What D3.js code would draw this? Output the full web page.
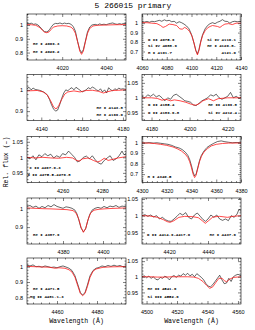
<!DOCTYPE html>
<html>
<head>
<meta charset="utf-8">
<script src="https://cdn.jsdelivr.net/npm/d3@7"></script>
<style>
  body { margin: 0; background: #fff; }
  .axis path { display: none; }
  .axis line { stroke: #000; stroke-width: 0.5; }
</style>
</head>
<body>
<svg id="chart" width="255" height="330"></svg>
<script>
// ---- observed (black) and model (red) spectra, read off the figure ----
// row 1 left: He I 4009 / 4026
const obsWave1a = [4004,4005,4006,4007,4008,4009,4010,4011,4012,4013,4014,4015,4016,4017,4018,4019,4020,4021,4022,4023,4024,4025,4026,4027,4028,4028.8,4029.6,4030.5,4031.5,4032.5,4033.5,4035,4036,4037,4038,4039,4040,4041,4042,4043,4044,4045,4046,4047,4048,4049];
const obsFlux1a = [1.012,1.010,1.013,1.005,1.008,1.000,0.985,0.965,0.952,0.950,0.960,0.985,1.005,1.012,1.010,1.015,1.008,1.014,1.010,1.012,1.005,0.990,0.955,0.880,0.820,0.800,0.820,0.880,0.950,0.985,1.000,1.005,1.000,1.008,1.003,1.006,1.002,1.008,1.012,1.015,1.008,1.005,1.010,1.006,1.012,1.010];
const modWave1a = [4004,4006,4008,4010,4011,4012,4013,4014,4015,4016,4018,4020,4022,4024,4025,4026,4027,4028,4028.8,4029.6,4030.5,4031.5,4032.5,4034,4036,4040,4044,4049];
const modFlux1a = [1.003,1.002,0.998,0.980,0.962,0.948,0.944,0.950,0.968,0.985,0.993,0.995,0.993,0.985,0.970,0.940,0.880,0.810,0.787,0.810,0.875,0.940,0.975,0.993,0.998,1.000,1.002,1.003];

// row 1 right: H delta region
const obsWave1b = [4060,4062,4064,4066,4068,4070,4072,4074,4076,4078,4080,4082,4084,4086,4088,4090,4092,4094,4096,4098,4100,4102,4103.5,4104.8,4106,4107.5,4109,4111,4113,4115,4117,4119,4121,4123,4125,4127,4129,4131,4133,4135,4137,4140];
const obsFlux1b = [1.015,1.012,1.018,1.010,1.020,1.015,1.022,1.030,1.020,1.035,1.025,1.030,1.015,1.020,1.000,1.015,1.005,0.990,0.970,0.940,0.880,0.790,0.710,0.675,0.720,0.810,0.880,0.940,0.975,0.995,1.005,0.995,1.010,1.020,1.037,1.020,1.018,1.000,1.015,1.020,1.015,1.020];
const modWave1b = [4060,4064,4068,4072,4075,4077,4079,4082,4085,4088,4090.5,4092.5,4094.5,4096.5,4098.5,4100.5,4102,4103.5,4104.8,4106,4107.5,4109,4111,4113,4115,4117,4119,4121,4123,4125,4127,4130,4133,4136,4140];
const modFlux1b = [1.005,1.005,1.000,0.995,0.975,0.955,0.965,0.990,0.985,0.975,0.940,0.936,0.955,0.940,0.910,0.860,0.790,0.710,0.664,0.710,0.800,0.870,0.920,0.950,0.965,0.975,0.970,0.965,0.955,0.975,0.990,0.995,0.985,1.000,1.000];

// row 2 left: He I 4143.8 / 4169.0
const obsWave2a = [4133,4134,4135,4136,4137,4138,4139,4140,4141,4142,4143,4144,4145,4146,4147,4148,4149,4150,4151,4152,4153,4154,4155,4156,4157,4158,4159,4160,4161,4162,4163,4164,4165,4166,4167,4168,4169,4170,4171,4172,4173,4174,4175,4176,4177,4178,4179,4180,4181.5];
const obsFlux2a = [1.005,1.012,1.000,1.008,1.002,1.000,0.998,0.995,0.990,0.985,0.975,0.955,0.930,0.910,0.900,0.905,0.930,0.960,0.985,1.000,0.995,1.005,1.010,1.000,1.012,1.005,0.998,0.990,0.995,1.000,1.010,1.005,1.013,1.008,1.000,0.995,1.005,0.990,1.000,0.985,1.010,1.000,0.995,1.005,1.000,1.008,1.003,1.005,1.002];
const modWave2a = [4133,4138,4141,4143,4144.5,4146,4147.2,4148.5,4150,4151.5,4153,4156,4159,4162,4165,4168,4170.5,4172,4175,4178,4181.5];
const modFlux2a = [0.995,0.997,0.990,0.975,0.950,0.920,0.910,0.925,0.955,0.980,0.990,0.995,0.990,0.997,0.998,0.993,0.985,0.990,0.997,0.998,1.000];

// row 2 right: O II 4185-4190, He II 4199.8, Si IV 4212.4
const obsWave2b = [4175,4176.5,4178,4179.5,4181,4182.5,4184,4185.5,4187,4188.5,4190,4191.5,4193,4194.5,4196,4197.5,4199,4200.5,4202,4203.5,4205,4206.5,4208,4209.5,4211,4212.5,4214,4215.5,4217,4218.5,4220,4221.5,4223,4224.5,4226,4227];
const obsFlux2b = [1.005,1.000,1.010,1.005,1.012,1.003,1.008,1.000,0.990,1.000,0.995,1.008,1.012,1.005,0.998,0.990,0.988,0.985,0.976,0.974,0.982,0.990,0.995,1.000,1.010,1.006,1.012,1.000,0.995,1.000,1.005,1.018,1.000,1.005,0.998,1.002];
const modWave2b = [4175,4180,4183,4185.5,4187.5,4190,4192,4195,4198,4201,4203,4205,4207,4210,4212.5,4215,4220,4227];
const modFlux2b = [1.000,1.000,0.998,0.992,0.995,0.990,0.993,0.990,0.985,0.978,0.975,0.980,0.990,0.997,0.990,0.997,1.000,1.000];

// row 3 left: C II 4267, O II 4275-4277
const obsWave3a = [4242,4243.5,4245,4246.5,4248,4249.5,4251,4252.5,4254,4255.5,4257,4258.5,4260,4261.5,4263,4264.5,4266,4267.5,4269,4270.5,4272,4273.5,4275,4276.5,4278,4279.5,4281,4282.5,4284,4285.5,4287,4288.5,4290,4291,4292];
const obsFlux3a = [1.000,0.995,1.005,0.992,1.008,1.002,1.012,1.005,1.010,0.998,1.005,1.000,1.012,1.008,1.020,1.010,1.000,0.985,0.990,1.000,1.004,0.995,1.005,0.992,0.982,0.978,0.990,0.998,1.005,0.990,0.995,1.005,1.020,1.008,1.012];
const modWave3a = [4242,4246,4250,4254,4258,4262,4265,4267,4268.5,4270,4273,4275.5,4277.5,4279,4281,4283,4285,4288,4292];
const modFlux3a = [1.000,0.998,1.000,0.998,0.997,1.000,0.998,0.990,0.988,0.995,0.998,0.990,0.985,0.988,0.997,0.990,0.993,0.998,1.002];

// row 3 right: H gamma
const obsWave3b = [4300,4303,4306,4309,4312,4315,4318,4321,4324,4327,4330,4332.5,4335,4337,4338.5,4340,4341.2,4342.5,4343.7,4345,4346.5,4348,4350,4352.5,4355,4358,4361,4364,4367,4370,4373,4376,4380];
const obsFlux3b = [1.000,0.998,1.002,0.997,1.000,0.995,0.990,0.985,0.975,0.960,0.950,0.935,0.910,0.880,0.840,0.780,0.720,0.684,0.700,0.760,0.830,0.880,0.920,0.955,0.975,0.995,1.012,1.018,1.010,1.005,1.000,1.003,1.000];
const modWave3b = [4300,4305,4310,4315,4320,4325,4329,4332,4335,4337,4338.5,4340,4341.3,4342.5,4343.7,4345,4346.5,4348,4350,4353,4356,4360,4365,4370,4380];
const modFlux3b = [0.998,0.997,0.993,0.985,0.975,0.960,0.940,0.920,0.890,0.860,0.820,0.760,0.700,0.667,0.690,0.750,0.820,0.870,0.910,0.945,0.970,0.985,0.993,0.997,0.998];

// row 4 left: He I 4387.9
const obsWave4a = [4362,4363.5,4365,4366.5,4368,4369.5,4371,4372.5,4374,4375.5,4377,4378.5,4380,4381.5,4383,4384.5,4386,4387,4388,4389,4390.2,4391.3,4392.3,4393.3,4394.5,4396,4397.5,4399,4400.5,4402,4403.5,4405,4406.5,4408,4409.5,4411.5];
const obsFlux4a = [1.010,1.015,1.005,1.012,1.000,1.010,1.003,1.015,1.008,1.020,1.010,1.005,1.000,1.008,1.005,1.000,0.990,0.970,0.935,0.895,0.875,0.890,0.930,0.965,0.990,1.000,1.005,1.000,1.010,1.003,1.012,1.008,1.015,1.005,1.012,1.008];
const modWave4a = [4362,4366,4370,4374,4378,4382,4385,4386.5,4387.8,4389,4390.2,4391.4,4392.5,4393.8,4395.5,4398,4402,4406,4411.5];
const modFlux4a = [1.002,1.000,0.998,0.997,0.995,0.993,0.988,0.975,0.945,0.900,0.872,0.895,0.940,0.975,0.990,0.995,0.998,1.000,1.002];

// row 4 right: O II 4414.9-4417.0, He I 4437.6
const obsWave4b = [4406,4407.5,4409,4410.5,4412,4413.5,4415,4416.5,4418,4419.5,4421,4422.5,4424,4425.5,4427,4428.5,4430,4431.5,4433,4434.5,4436,4437.5,4438.7,4440,4441.5,4443,4444.5,4446,4447.5,4449,4450.5,4452,4453.5,4455,4456,4457];
const obsFlux4b = [1.000,1.003,0.998,1.002,0.996,1.000,0.990,0.995,0.988,0.984,0.983,0.990,0.998,1.007,1.002,1.009,0.995,0.990,1.002,1.008,0.998,0.988,0.983,0.990,1.002,0.995,1.002,0.990,0.986,0.990,0.985,1.000,0.995,1.005,1.020,1.012];
const modWave4b = [4406,4410,4414,4417,4419,4420.5,4422.5,4425,4428,4432,4435,4437,4438.6,4440.3,4442.5,4446,4450,4453,4457];
const modFlux4b = [1.000,0.999,0.995,0.988,0.982,0.980,0.985,0.995,0.998,0.997,0.994,0.985,0.977,0.985,0.996,0.998,0.995,0.998,1.000];

// row 5 left: He I 4471.5, Mg II 4481
const obsWave5a = [4445,4446.5,4448,4449.5,4451,4452.5,4454,4455.5,4457,4458.5,4460,4461.5,4463,4464.5,4466,4467.5,4469,4470.5,4471.7,4472.8,4474,4475.2,4476.5,4478,4479.5,4481,4482.5,4484,4485.5,4487,4488.5,4490,4491.5,4493,4494.5];
const obsFlux5a = [1.010,1.005,1.012,1.000,1.003,0.997,1.005,1.000,0.995,0.998,0.993,1.000,1.005,0.998,0.990,0.975,0.940,0.880,0.830,0.815,0.830,0.880,0.940,0.975,0.990,0.995,1.005,1.000,1.008,1.002,1.010,1.003,1.008,1.000,1.005];
const modWave5a = [4445,4449,4453,4456,4459,4461,4464,4466,4467.5,4469,4470.5,4471.7,4472.8,4474,4475.2,4476.5,4478,4479.5,4481,4483,4487,4491,4494.5];
const modFlux5a = [1.002,1.000,0.998,0.997,0.990,0.993,0.990,0.980,0.965,0.930,0.870,0.825,0.810,0.825,0.870,0.930,0.970,0.985,0.990,0.996,0.999,1.000,1.000];

// row 5 right: He II 4541.6, Si III 4552.6
const obsWave5b = [4497,4498.5,4500,4501.5,4503,4504.5,4506,4507.5,4509,4510.5,4512,4513.5,4515,4516.5,4518,4519.5,4521,4522.5,4524,4525.5,4527,4528.5,4530,4531.5,4533,4534.5,4536,4537.5,4539,4540.5,4542,4543.5,4545,4546.5,4548,4549.5,4551,4552.5,4554,4555.5,4557,4558.5,4560,4562];
const obsFlux5b = [1.000,1.003,0.997,1.002,0.995,1.000,0.992,0.990,0.998,0.995,1.002,0.998,0.990,1.000,1.004,0.998,1.005,1.002,1.010,1.005,1.011,1.003,1.008,1.000,1.010,1.004,0.998,0.990,0.978,0.970,0.968,0.975,0.985,0.995,1.005,0.990,0.978,0.980,0.995,0.985,1.000,1.005,1.008,1.003];
const modWave5b = [4497,4502,4507,4512,4517,4522,4527,4531,4534,4537,4539.5,4541.5,4543.5,4545.5,4547.5,4549.5,4551,4552.5,4554.5,4557,4562];
const modFlux5b = [1.000,1.000,0.999,0.999,1.000,1.000,1.000,0.999,0.995,0.985,0.972,0.963,0.968,0.982,0.995,0.995,0.988,0.984,0.992,0.998,1.000];

// line identifications per panel
const labels1a = ['He I 4009.3', 'He I 4026.2'];
const labels1b = ['O II 4075.9', 'Si IV 4088.9', 'H I 4101.7', 'Si IV 4116.1', 'He I 4120.8-', '4121.0'];
const labels2a = ['He I 4143.8', 'He I 4169.0'];
const labels2b = ['O II 4185.4', 'O II 4189.6-8', 'He II 4199.8', 'Si IV 4212.4'];
const labels3a = ['C II 4267.0-3', 'O II 4275.5-4276.8'];
const labels3b = ['H I 4340.5'];
const labels4a = ['He I 4387.9'];
const labels4b = ['O II 4414.9-4417.0', 'He I 4437.6'];
const labels5a = ['He I 4471.5', 'Mg II 4481.1-3'];
const labels5b = ['He II 4541.6', 'Si III 4552.6'];

// ---- layout ----
const colX = [27, 142];
const rowY = [14, 74.5, 136.5, 198, 258];
const W = 99, H = 46;

// note positions: [dx, baseline, anchor]
const panels = [
  { c: 0, r: 0, xd: [4004, 4049], yd: [0.746, 1.08], ys: 0.1, obs: [obsWave1a, obsFlux1a], mod: [modWave1a, modFlux1a],
    text: labels1a, pos: [[6, 31, 'start'], [6, 39, 'start']] },
  { c: 1, r: 0, xd: [4060, 4140], yd: [0.61, 1.097], ys: 0.1, obs: [obsWave1b, obsFlux1b], mod: [modWave1b, modFlux1b],
    text: labels1b, pos: [[6, 27, 'start'], [6, 33, 'start'], [6, 39.5, 'start'], [94, 27, 'end'], [94, 33, 'end'], [94, 39.5, 'end']] },
  { c: 0, r: 1, xd: [4133, 4181.5], yd: [0.856, 1.072], ys: 0.1, obs: [obsWave2a, obsFlux2a], mod: [modWave2a, modFlux2a],
    text: labels2a, pos: [[96, 34, 'end'], [96, 41.5, 'end']] },
  { c: 1, r: 1, xd: [4175, 4227], yd: [0.924, 1.078], ys: 0.05, obs: [obsWave2b, obsFlux2b], mod: [modWave2b, modFlux2b],
    text: labels2b, pos: [[6, 31.5, 'start'], [6, 39.5, 'start'], [95, 31.5, 'end'], [95, 39.5, 'end']] },
  { c: 0, r: 2, xd: [4242, 4292], yd: [0.919, 1.067], ys: 0.05, obs: [obsWave3a, obsFlux3a], mod: [modWave3a, modFlux3a],
    text: labels3a, pos: [[2.5, 32.5, 'start'], [0.5, 39.5, 'start']] },
  { c: 1, r: 2, xd: [4300, 4380], yd: [0.62, 1.06], ys: 0.1, obs: [obsWave3b, obsFlux3b], mod: [modWave3b, modFlux3b],
    text: labels3b, pos: [[5.5, 41, 'start']] },
  { c: 0, r: 3, xd: [4362, 4411.5], yd: [0.81, 1.055], ys: 0.1, obs: [obsWave4a, obsFlux4a], mod: [modWave4a, modFlux4a],
    text: labels4a, pos: [[6, 38, 'start']] },
  { c: 1, r: 3, xd: [4406, 4457], yd: [0.915, 1.053], ys: 0.05, obs: [obsWave4b, obsFlux4b], mod: [modWave4b, modFlux4b],
    text: labels4b, pos: [[5, 38, 'start'], [94, 38, 'end']] },
  { c: 0, r: 4, xd: [4445, 4494.5], yd: [0.756, 1.057], ys: 0.1, obs: [obsWave5a, obsFlux5a], mod: [modWave5a, modFlux5a],
    text: labels5a, pos: [[6, 32, 'start'], [3, 40, 'start']] },
  { c: 1, r: 4, xd: [4497, 4562], yd: [0.913, 1.06], ys: 0.05, obs: [obsWave5b, obsFlux5b], mod: [modWave5b, modFlux5b],
    text: labels5b, pos: [[5.5, 32, 'start'], [5.5, 39.5, 'start']] },
];

const svg = d3.select('#chart');
const tickFont = 'Liberation Sans, Arial, sans-serif';
const monoFont = 'Liberation Mono, DejaVu Sans Mono, monospace';

function steps(lo, hi, step) {
  return d3.range(Math.ceil(lo / step - 1e-6), Math.floor(hi / step + 1e-6) + 1)
    .map(k => +(k * step).toFixed(4));
}

function drawPanel(p, i) {
  const g = svg.append('g').attr('transform', `translate(${colX[p.c]},${rowY[p.r]})`);
  const x = d3.scaleLinear().domain(p.xd).range([0, W]);
  const y = d3.scaleLinear().domain(p.yd).range([H, 0]);

  const xMaj = steps(p.xd[0], p.xd[1], 20);
  const xMin = steps(p.xd[0], p.xd[1], 4).filter(v => !xMaj.includes(v));
  const yMaj = steps(p.yd[0], p.yd[1], p.ys);
  const yMin = steps(p.yd[0], p.yd[1], p.ys / 5).filter(v => !yMaj.some(m => Math.abs(m - v) < 1e-6));

  const clipId = 'clip' + i;
  g.append('clipPath').attr('id', clipId)
    .append('rect').attr('width', W).attr('height', H);

  const line = d3.line().x(d => x(d[0])).y(d => y(d[1]));

  g.append('path')
    .datum(d3.zip(p.obs[0], p.obs[1]))
    .attr('clip-path', `url(#${clipId})`)
    .attr('fill', 'none')
    .attr('stroke', '#000')
    .attr('stroke-width', 0.6)
    .attr('d', line);

  g.append('path')
    .datum(d3.zip(p.mod[0], p.mod[1]))
    .attr('clip-path', `url(#${clipId})`)
    .attr('fill', 'none')
    .attr('stroke', '#ff1a1a')
    .attr('stroke-width', 0.8)
    .attr('d', line);

  // major ticks (inward, all four sides) + labels on bottom and left
  g.append('g').attr('class', 'axis').attr('transform', `translate(0,${H})`)
    .call(d3.axisBottom(x).tickValues(xMaj).tickSize(-3).tickPadding(6.3).tickFormat(d3.format('d')));
  g.append('g').attr('class', 'axis')
    .call(d3.axisTop(x).tickValues(xMaj).tickSize(-3).tickFormat(''));
  g.append('g').attr('class', 'axis')
    .call(d3.axisLeft(y).tickValues(yMaj).tickSize(-3).tickPadding(4).tickFormat(d3.format('~g')));
  g.append('g').attr('class', 'axis').attr('transform', `translate(${W},0)`)
    .call(d3.axisRight(y).tickValues(yMaj).tickSize(-3).tickFormat(''));

  // minor ticks
  g.append('g').attr('class', 'axis').attr('transform', `translate(0,${H})`)
    .call(d3.axisBottom(x).tickValues(xMin).tickSize(-1.5).tickFormat(''));
  g.append('g').attr('class', 'axis')
    .call(d3.axisTop(x).tickValues(xMin).tickSize(-1.5).tickFormat(''));
  g.append('g').attr('class', 'axis')
    .call(d3.axisLeft(y).tickValues(yMin).tickSize(-1.5).tickFormat(''));
  g.append('g').attr('class', 'axis').attr('transform', `translate(${W},0)`)
    .call(d3.axisRight(y).tickValues(yMin).tickSize(-1.5).tickFormat(''));

  g.selectAll('.axis text')
    .attr('font-family', tickFont)
    .attr('font-size', 5.5)
    .attr('fill', '#000');

  g.append('rect')
    .attr('width', W).attr('height', H)
    .attr('fill', 'none').attr('stroke', '#000').attr('stroke-width', 0.6);

  g.selectAll('text.note')
    .data(p.text)
    .enter().append('text')
    .attr('class', 'note')
    .attr('x', (d, k) => p.pos[k][0])
    .attr('y', (d, k) => p.pos[k][1])
    .attr('text-anchor', (d, k) => p.pos[k][2])
    .attr('font-family', monoFont)
    .attr('font-weight', 'bold')
    .attr('font-size', 4)
    .text(d => d);
}

panels.forEach(drawPanel);

svg.append('text')
  .attr('x', 133).attr('y', 8)
  .attr('text-anchor', 'middle')
  .attr('font-family', monoFont)
  .attr('font-size', 8)
  .text('5 266015 primary');

colX.forEach(cx => {
  svg.append('text')
    .attr('x', cx + W / 2).attr('y', 323)
    .attr('text-anchor', 'middle')
    .attr('font-family', monoFont)
    .attr('font-size', 6.5)
    .text('Wavelength (Å)');
});

svg.append('text')
  .attr('transform', 'translate(7.5,162) rotate(-90)')
  .attr('text-anchor', 'middle')
  .attr('font-family', monoFont)
  .attr('font-size', 6.5)
  .text('Rel. flux (–)');
</script>
</body>
</html>
